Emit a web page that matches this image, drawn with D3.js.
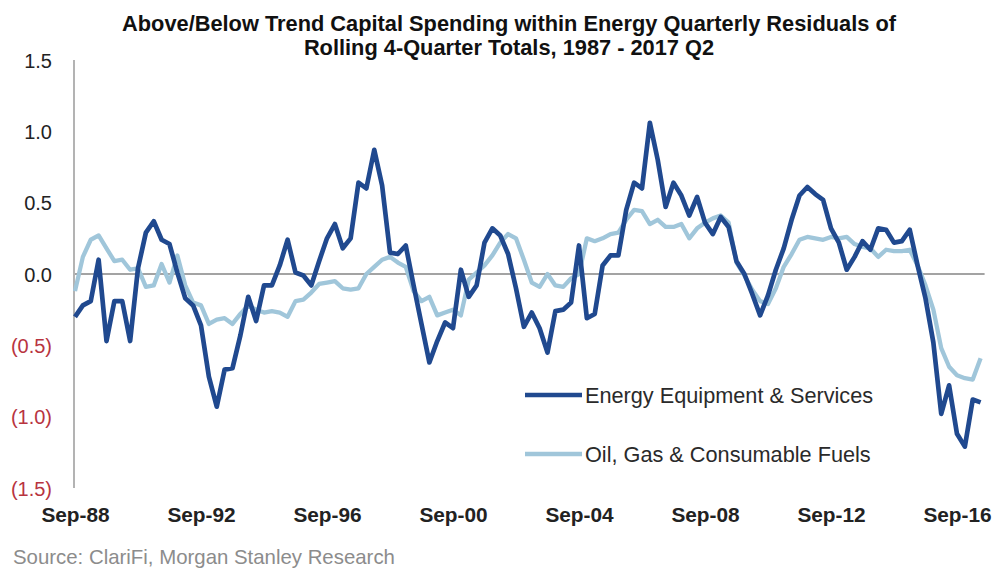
<!DOCTYPE html>
<html>
<head>
<meta charset="utf-8">
<script src="https://cdn.jsdelivr.net/npm/d3@7"></script>
<style>
  html, body { margin: 0; padding: 0; background: #fff; }
  svg { display: block; }
  text { font-family: "Liberation Sans", Arial, Helvetica, sans-serif; }
</style>
</head>
<body>
<svg id="chart" width="995" height="569"></svg>
<script>
// Quarterly residuals, Sep-88 through Jun-17
const firstQuarter = new Date(1988, 8, 1);
const quarterCount = 116;

const energyEquipment = [
  -0.30, -0.22, -0.19, 0.10, -0.47, -0.19, -0.19, -0.47, 0.04, 0.29,
   0.37,  0.24,  0.21, 0.01, -0.17, -0.22, -0.36, -0.72, -0.93, -0.67,
  -0.66, -0.43, -0.16, -0.33, -0.08, -0.08, 0.06, 0.24, 0.01, -0.01,
  -0.08,  0.09,  0.25, 0.35, 0.18, 0.25, 0.64, 0.60, 0.87, 0.62,
   0.15,  0.14,  0.20, -0.08, -0.35, -0.62, -0.47, -0.34, -0.38, 0.03,
  -0.16, -0.08,  0.22, 0.32, 0.27, 0.14, -0.10, -0.37, -0.27, -0.38,
  -0.55, -0.26, -0.25, -0.20, 0.20, -0.31, -0.28, 0.06, 0.13, 0.13,
   0.45,  0.64,  0.60, 1.06, 0.80, 0.47, 0.64, 0.55, 0.41, 0.54,
   0.36,  0.28,  0.40, 0.33, 0.09, 0.00, -0.14, -0.29, -0.15, 0.03,
   0.18,  0.38,  0.55, 0.61, 0.56, 0.52, 0.32, 0.22, 0.03, 0.12,
   0.23,  0.17,  0.32, 0.31, 0.22, 0.23, 0.31, 0.06, -0.17, -0.48,
  -0.98, -0.78, -1.12, -1.21, -0.88, -0.90
];

const oilGasFuels = [
  -0.12,  0.12,  0.24, 0.27, 0.18, 0.09, 0.10, 0.03, 0.04, -0.09,
  -0.08,  0.07, -0.06, 0.13, -0.08, -0.20, -0.22, -0.35, -0.32, -0.31,
  -0.35, -0.28, -0.22, -0.25, -0.27, -0.26, -0.27, -0.30, -0.19, -0.18,
  -0.13, -0.07, -0.06, -0.05, -0.10, -0.11, -0.10, 0.00, 0.05, 0.10,
   0.12,  0.08,  0.05, -0.12, -0.19, -0.16, -0.29, -0.27, -0.25, -0.29,
  -0.04,  0.01,  0.06, 0.13, 0.22, 0.28, 0.25, 0.10, -0.06, -0.09,
   0.00, -0.08, -0.09, -0.03, 0.00, 0.25, 0.23, 0.25, 0.28, 0.29,
   0.38,  0.45,  0.44, 0.35, 0.38, 0.33, 0.33, 0.35, 0.25, 0.32,
   0.36,  0.39,  0.41, 0.36, 0.08, -0.01, -0.11, -0.19, -0.21, -0.10,
   0.05,  0.14,  0.24, 0.26, 0.25, 0.24, 0.26, 0.25, 0.26, 0.21,
   0.19,  0.18,  0.12, 0.17, 0.16, 0.16, 0.17, 0.06, -0.08, -0.25,
  -0.52, -0.65, -0.71, -0.73, -0.74, -0.59
];

const xTickLabels = ["Sep-88", "Sep-92", "Sep-96", "Sep-00", "Sep-04", "Sep-08", "Sep-12", "Sep-16"];
const yTickValues = [1.5, 1.0, 0.5, 0.0, -0.5, -1.0, -1.5];

const seriesNames = ["Energy Equipment & Services", "Oil, Gas & Consumable Fuels"];
const titleLines = [
  "Above/Below Trend Capital Spending within Energy Quarterly Residuals of",
  "Rolling 4-Quarter Totals, 1987 - 2017 Q2"
];
const sourceNote = "Source: ClariFi, Morgan Stanley Research";

// quarter-end category labels, e.g. "Sep-88", "Dec-88", ...
const fmtQuarter = d3.timeFormat("%b-%y");
const quarters = d3.range(quarterCount).map(i => fmtQuarter(d3.timeMonth.offset(firstQuarter, 3 * i)));

const svg = d3.select("#chart");
const colors = { energy: "#20498f", oil: "#a0c6da" };

const x = d3.scalePoint().domain(quarters).range([75, 980.6]);
const y = d3.scaleLinear().domain([-1.5, 1.5]).range([488, 60]);

// title
svg.append("g").selectAll("text").data(titleLines).join("text")
  .attr("x", 509)
  .attr("y", (d, i) => 31 + i * 24)
  .attr("text-anchor", "middle")
  .attr("font-size", 21.8)
  .attr("font-weight", "bold")
  .attr("fill", "#111")
  .text(d => d);

// y axis line
svg.append("line")
  .attr("x1", 74).attr("x2", 74)
  .attr("y1", y(1.5)).attr("y2", y(-1.5))
  .attr("stroke", "#9a9a9a").attr("stroke-width", 1.5);

// y tick labels, negatives in parentheses and red
const fmtY = v => v < 0 ? `(${d3.format(".1f")(-v)})` : d3.format(".1f")(v);
const yAxis = d3.axisLeft(y).tickValues(yTickValues).tickFormat(fmtY).tickSize(0).tickPadding(0);
const yg = svg.append("g").attr("transform", "translate(52,0)").call(yAxis);
yg.select(".domain").remove();
yg.selectAll("text")
  .attr("font-size", 20)
  .attr("font-family", "'Liberation Sans', Arial, sans-serif")
  .attr("fill", d => d < 0 ? "#b8343f" : "#222")
  .attr("dy", "0.36em");

// zero line
svg.append("line")
  .attr("x1", x(quarters[0])).attr("x2", x(quarters[quarterCount - 1]) + 4)
  .attr("y1", y(0)).attr("y2", y(0))
  .attr("stroke", "#a3a3a3").attr("stroke-width", 2);

// x tick labels
const xAxis = d3.axisBottom(x).tickValues(xTickLabels).tickSize(0).tickPadding(0);
const xg = svg.append("g").attr("transform", "translate(0,507)").call(xAxis);
xg.select(".domain").remove();
xg.selectAll("text")
  .attr("font-size", 20.8)
  .attr("font-weight", "bold")
  .attr("font-family", "'Liberation Sans', Arial, sans-serif")
  .attr("fill", "#222")
  .attr("dy", "0.72em");

// series lines
const line = d3.line()
  .x((d, i) => x(quarters[i]))
  .y(d => y(d))
  .curve(d3.curveLinear);

svg.append("path")
  .datum(oilGasFuels)
  .attr("d", line)
  .attr("fill", "none")
  .attr("stroke", colors.oil)
  .attr("stroke-width", 4.3)
  .attr("stroke-linejoin", "round");

svg.append("path")
  .datum(energyEquipment)
  .attr("d", line)
  .attr("fill", "none")
  .attr("stroke", colors.energy)
  .attr("stroke-width", 4.7)
  .attr("stroke-linejoin", "round");

// legend
const legend = svg.append("g");
const legendItems = [
  { name: seriesNames[0], color: colors.energy, y: 395 },
  { name: seriesNames[1], color: colors.oil, y: 454 }
];
legendItems.forEach(item => {
  legend.append("line")
    .attr("x1", 525).attr("x2", 582)
    .attr("y1", item.y).attr("y2", item.y)
    .attr("stroke", item.color).attr("stroke-width", 4.7);
  legend.append("text")
    .attr("x", 585).attr("y", item.y)
    .attr("dy", "0.36em")
    .attr("font-size", 21.7)
    .attr("fill", "#2a2a2a")
    .text(item.name);
});

// source note
svg.append("text")
  .attr("x", 13).attr("y", 564)
  .attr("font-size", 20.4)
  .attr("fill", "#8c8c8c")
  .text(sourceNote);
</script>
</body>
</html>
